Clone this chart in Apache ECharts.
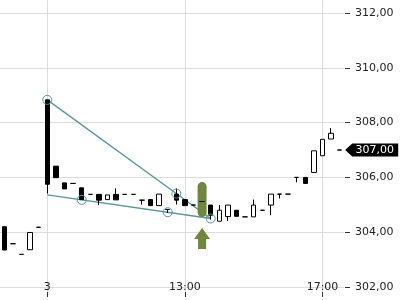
<!DOCTYPE html>
<html><head><meta charset="utf-8">
<script src="https://cdn.jsdelivr.net/npm/echarts@6/dist/echarts.min.js"></script>
<style>html,body{margin:0;padding:0;background:#fff}#c{width:400px;height:300px}</style>
</head><body><div id="c"></div>
<script>
const categories = ['2 16:15','2 16:30','2 16:45','2 17:00','2 17:15',
 '3 09:00','3 09:15','3 09:30','3 09:45','3 10:00','3 10:15','3 10:30','3 10:45',
 '3 11:00','3 11:15','3 11:30','3 11:45','3 12:00','3 12:15','3 12:30','3 12:45',
 '3 13:00','3 13:15','3 13:30','3 13:45','3 14:00','3 14:15','3 14:30','3 14:45',
 '3 15:00','3 15:15','3 15:30','3 15:45','3 16:00','3 16:15','3 16:30','3 16:45',
 '3 17:00','3 17:15','3 17:30'];
const opens  = [304.20,303.58,303.19,303.36,304.18, 308.83,306.41,305.80,305.78,305.62, 305.38,305.38,305.19,305.38,305.38, 305.38,305.17,305.19,304.97,304.83, 305.39,305.19,304.99,305.12,304.99, 304.40,304.57,304.80,304.56,304.56, 304.80,304.99,305.39,305.39,306.00, 306.00,306.18,306.79,307.40,307.00];
const closes = [303.35,303.58,303.19,303.99,304.18, 305.75,305.99,305.58,305.78,305.19, 305.38,305.17,305.36,305.18,305.38, 305.38,305.17,304.97,305.39,304.83, 305.17,304.97,304.99,305.12,304.62, 304.80,304.99,304.58,304.56,304.99, 304.80,305.39,305.39,305.39,306.00, 305.78,306.97,307.39,307.61,307.00];
const lows   = [303.35,303.58,303.19,303.36,304.18, 305.41,305.99,305.58,305.78,305.19, 305.38,304.99,305.19,305.18,305.38, 305.38,305.01,304.97,304.97,304.70, 305.01,304.97,304.99,305.12,304.46, 304.40,304.41,304.58,304.56,304.56, 304.80,304.62,305.23,305.39,305.82, 305.78,306.18,306.79,307.40,307.00];
const highs  = [304.20,303.58,303.19,303.99,304.18, 308.83,306.41,305.80,305.78,305.62, 305.38,305.38,305.36,305.60,305.38, 305.38,305.17,305.19,305.39,304.83, 305.60,305.19,304.99,305.12,304.99, 304.99,304.99,304.80,304.56,305.19, 304.80,305.39,305.39,305.39,306.00, 306.00,306.97,307.39,307.80,307.00];
const upperTrend = [[5, 308.83], [24, 304.50]];
const lowerTrend = [[5, 305.36], [24, 304.50]];
const touchPoints = [[5, 308.83], [9, 305.18], [19, 304.73], [20, 305.41], [24, 304.50]];
const signalPill = [[23, 305.19]];
const signalArrow = [[23, 303.77]];
const lastPrice = 307.00;
const xTickCats = ['3 09:00', '3 13:00', '3 17:00'];
const xTickTexts = ['3', '13:00', '17:00'];
const yTicks = [302, 304, 306, 308, 310, 312];

const candleData = opens.map((o, i) => [o, closes[i], lows[i], highs[i]]);
const fmt = v => v.toFixed(2).replace('.', ',');
const isTick = (idx, val) => xTickCats.indexOf(val) >= 0;
const FONT = 'DejaVu Sans';
const TEAL = '#53979f';
const OLIVE = '#6f873a';
const GRID = '#dcdcdc';

const chart = echarts.init(document.getElementById('c'));
chart.setOption({
  animation: false,
  backgroundColor: '#fff',
  grid: [
    {left: 0, right: 56, top: 13, bottom: 13},
    {left: 0, right: 56, top: 0, bottom: 8}
  ],
  xAxis: [
    {type: 'category', gridIndex: 0, data: categories, boundaryGap: true, show: false},
    {type: 'category', gridIndex: 1, data: categories, boundaryGap: true,
     axisLine: {show: false},
     axisTick: {show: true, alignWithLabel: true, interval: isTick, length: 5, lineStyle: {color: '#333'}},
     axisLabel: {interval: isTick, formatter: v => xTickTexts[xTickCats.indexOf(v)],
       margin: -5, verticalAlign: 'middle', fontFamily: FONT, fontSize: 11, color: '#222'},
     splitLine: {show: false}}
  ],
  yAxis: [
    {type: 'value', gridIndex: 0, position: 'right', min: yTicks[0], max: yTicks[yTicks.length - 1], interval: 2, offset: 1,
     axisLine: {show: false},
     axisTick: {show: true, length: 5, lineStyle: {color: '#333'}},
     axisLabel: {margin: 10, formatter: fmt, fontFamily: FONT, fontSize: 11, color: '#222'},
     splitLine: {show: true, lineStyle: {color: GRID, width: 1}}},
    {type: 'value', gridIndex: 1, min: 0, max: 1, show: false}
  ],
  series: [
    {type: 'line', xAxisIndex: 1, yAxisIndex: 1, data: [], z: 0, silent: true,
     markLine: {silent: true, z: 0, symbol: 'none', label: {show: false},
       lineStyle: {color: GRID, type: 'solid', width: 1},
       data: xTickCats.map(c => ({xAxis: c}))}},
    {type: 'line', data: upperTrend, symbol: 'none', z: 2, lineStyle: {color: TEAL, width: 1.3}},
    {type: 'line', data: lowerTrend, symbol: 'none', z: 2, lineStyle: {color: TEAL, width: 1.3}},
    {type: 'scatter', data: signalPill, z: 3,
     symbol: 'path://M0,4.5A4.5,4.5 0 0 1 9,4.5L9,30.5A4.5,4.5 0 0 1 0,30.5Z', symbolSize: [9, 35],
     itemStyle: {color: OLIVE, opacity: 1}},
    {type: 'scatter', data: signalArrow, z: 3,
     symbol: 'path://M8,0L16,11L12,11L12,21L4,21L4,11L0,11Z', symbolSize: [16, 21],
     itemStyle: {color: OLIVE, opacity: 1}},
    {type: 'candlestick', data: candleData, z: 4, barWidth: 5,
     itemStyle: {color: '#ffffff', color0: '#000000', borderColor: '#000000', borderColor0: '#000000', borderColorDoji: '#000000', borderWidth: 1},
     markPoint: {
       symbol: 'path://M0,6.5L7,0L53,0L53,13L7,13Z', symbolSize: [53, 13], symbolOffset: [32, 0],
       itemStyle: {color: '#000'},
       label: {show: true, position: 'inside', offset: [3, 0], color: '#fff', fontFamily: FONT, fontSize: 11, formatter: () => fmt(lastPrice)},
       data: [{coord: [categories[categories.length - 1], lastPrice], value: lastPrice}]
     }},
    {type: 'scatter', data: touchPoints, z: 5, symbol: 'circle', symbolSize: 9,
     itemStyle: {color: 'rgba(255,255,255,0)', borderColor: TEAL, borderWidth: 1, opacity: 1}}
  ]
});
</script></body></html>
